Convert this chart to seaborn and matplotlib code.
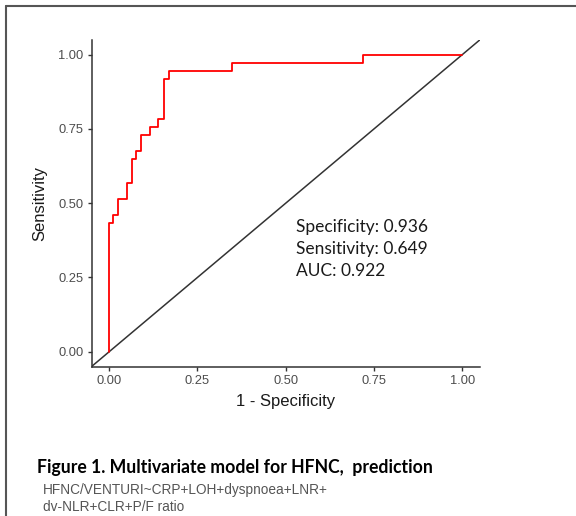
import numpy as np
import pandas as pd
import matplotlib.pyplot as plt
import seaborn as sns
from matplotlib.lines import Line2D

# ROC curve corners (1 - specificity, sensitivity)
fpr = [0.0, 0.011, 0.026, 0.049, 0.064, 0.076, 0.089, 0.116, 0.139, 0.154, 0.168, 0.347, 0.72, 1.0]
tpr = [0.0, 0.432, 0.459, 0.514, 0.568, 0.649, 0.676, 0.730, 0.757, 0.784, 0.919, 0.946, 0.973, 1.0]

ticks = [0.0, 0.25, 0.5, 0.75, 1.0]
tick_labels = ['0.00', '0.25', '0.50', '0.75', '1.00']

stats_lines = ['Specificity: 0.936', 'Sensitivity: 0.649', 'AUC: 0.922']
caption = 'Figure 1. Multivariate model for HFNC,  prediction'
formula_lines = ['HFNC/VENTURI~CRP+LOH+dyspnoea+LNR+', 'dv-NLR+CLR+P/F ratio']

sns.set_style('ticks')
plt.rcParams['font.family'] = ['Liberation Sans', 'DejaVu Sans']

fig = plt.figure(figsize=(5.76, 5.16), dpi=100)
ax = fig.add_axes([0.159, 0.2897, 0.674, 0.633])

roc = pd.DataFrame({'fpr': fpr, 'tpr': tpr})

# reference diagonal
ax.axline((0, 0), (1, 1), color='#333333', lw=1.1, zorder=1)
sns.lineplot(data=roc, x='fpr', y='tpr', ax=ax, color='red', lw=1.3,
             drawstyle='steps-pre', estimator=None, sort=False, zorder=2)

ax.set_xlim(-0.05, 1.05)
ax.set_ylim(-0.05, 1.05)
ax.set_xticks(ticks)
ax.set_xticklabels(tick_labels)
ax.set_yticks(ticks)
ax.set_yticklabels(tick_labels)
ax.tick_params(length=3, width=1, color='#333333', labelcolor='#4D4D4D', labelsize=9.3, pad=3)
sns.despine(ax=ax)
for side in ['left', 'bottom']:
    ax.spines[side].set_color('#333333')
    ax.spines[side].set_linewidth(1.1)

ax.set_xlabel('1 - Specificity', fontsize=12, color='#1A1A1A', labelpad=5)
ax.set_ylabel('Sensitivity', fontsize=12, color='#1A1A1A', labelpad=8)

# stats annotation
for i, line in enumerate(stats_lines):
    fig.text(296 / 576, 1 - (227 + i * 22) / 516, line, family=['Lato', 'DejaVu Sans'],
             fontsize=12.5, va='center', ha='left', color='#1A1A1A')

# caption
fig.text(37 / 576, 1 - 467 / 516, caption, family=['Lato', 'DejaVu Sans'],
         fontweight='bold', fontsize=12.7, va='center', ha='left', color='black')
for i, line in enumerate(formula_lines):
    fig.text(43 / 576, 1 - (490 + i * 17) / 516, line, fontsize=9.8,
             va='center', ha='left', color='#555555')

# page frame
fig.add_artist(Line2D([6 / 576, 6 / 576], [0, 1 - 6 / 516], transform=fig.transFigure,
                      color='#555555', lw=1.5))
fig.add_artist(Line2D([6 / 576, 1], [1 - 6 / 516, 1 - 6 / 516], transform=fig.transFigure,
                      color='#555555', lw=1.5))

fig.savefig('out.png', dpi=100)
